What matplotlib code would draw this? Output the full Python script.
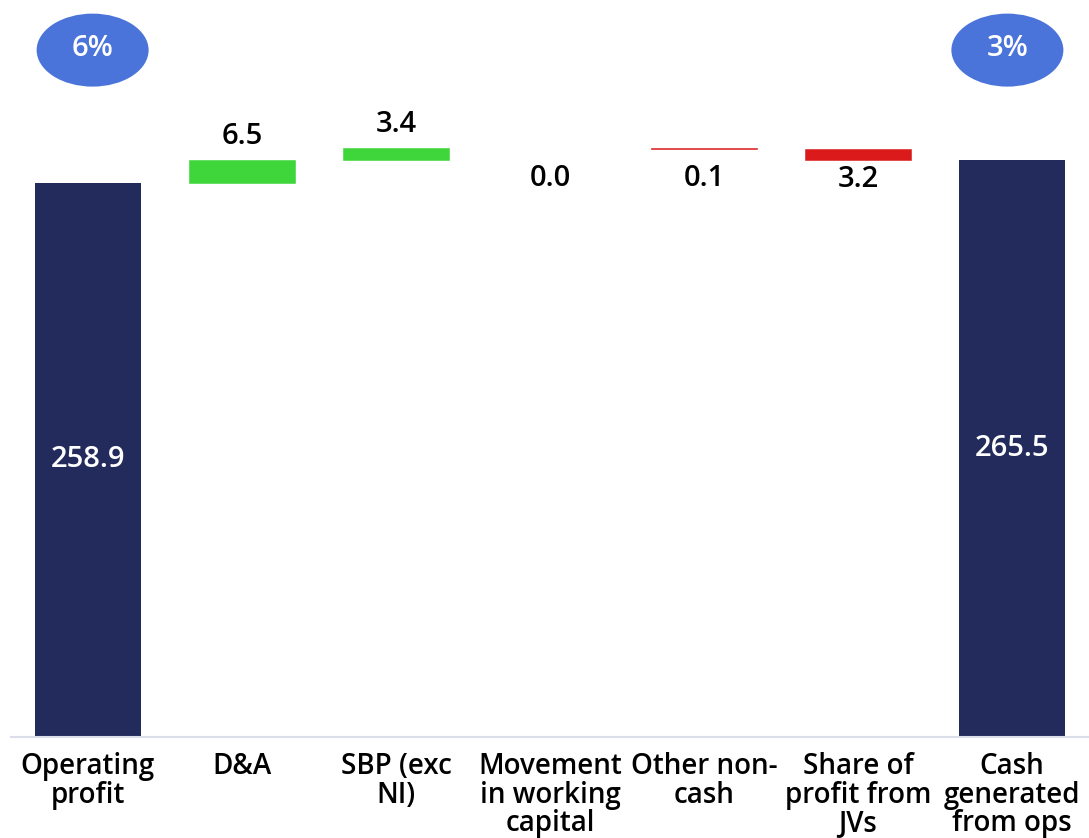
import matplotlib
matplotlib.use("Agg")
import matplotlib.pyplot as plt
from matplotlib.patches import Ellipse
import matplotlib.transforms as mtransforms
import numpy as np

plt.rcParams['font.family'] = ['Open Sans', 'DejaVu Sans']

# Cash flow bridge data (£m)
categories = ["Operating\nprofit", "D&A", "SBP (exc\nNI)", "Movement\nin working\ncapital",
              "Other non-\ncash", "Share of\nprofit from\nJVs", "Cash\ngenerated\nfrom ops"]
opening_total = 258.9
movements = [6.5, 3.4, 0.0, -0.1, -3.2]
closing_total = 265.5
badge_labels = ["6%", "3%"]

NAVY = "#222B5C"
GREEN = "#3ED63A"
RED = "#DB1B1B"
BADGE = "#4A74D9"
AXIS = "#D9DEE8"

fig = plt.figure(figsize=(10.89, 8.38), dpi=100)
ax = fig.add_axes([11 / 1089, 101 / 838, 1078 / 1089, 737 / 838])

x = np.arange(len(categories))
width = 0.69
ymin = 100.6
ax.set_xlim(-0.5, len(categories) - 0.5)
ax.set_ylim(ymin, ymin + 737 / 3.5)

FS = 20      # category labels
VS = 21      # value labels
WT = "semibold"

# Totals
for xi, val in ((x[0], opening_total), (x[-1], closing_total)):
    ax.bar(xi, val - ymin, bottom=ymin, width=width, color=NAVY, zorder=2)
    ax.text(xi, (val + ymin) / 2, f"{val:.1f}", ha="center", va="center",
            color="white", fontsize=VS, fontweight=WT)

# Movements: increases labelled above the bar, decreases below the starting level
level = opening_total
for xi, mv in zip(x[1:-1], movements):
    color = GREEN if mv > 0 else RED
    bottom = level if mv >= 0 else level + mv
    if mv != 0:
        ax.bar(xi, abs(mv), bottom=bottom, width=width, color=color,
               edgecolor=color, linewidth=0.4, zorder=2)
    if mv > 0:
        ax.annotate(f"{abs(mv):.1f}", (xi, level + mv), xytext=(0, 17), textcoords="offset points",
                    ha="center", va="center", fontsize=VS, fontweight=WT)
    else:
        ax.annotate(f"{abs(mv):.1f}", (xi, level), xytext=(0, -22), textcoords="offset points",
                    ha="center", va="center", fontsize=VS, fontweight=WT)
    level += mv

# Margin badges above the totals
trans = mtransforms.blended_transform_factory(ax.transData, ax.transAxes)
for xi, txt in zip((x[0] + 0.03, x[-1] - 0.03), badge_labels):
    ax.add_patch(Ellipse((xi, 0.932), 112 / 154, 73 / 737, transform=trans,
                         facecolor=BADGE, edgecolor="none", zorder=3, clip_on=False))
    ax.text(xi, 0.934, txt, transform=trans, ha="center", va="center",
            color="white", fontsize=VS, fontweight=WT, zorder=4)

for side in ("top", "right", "left"):
    ax.spines[side].set_visible(False)
ax.spines["bottom"].set_color(AXIS)
ax.spines["bottom"].set_linewidth(1.5)
ax.set_yticks([])
ax.set_xticks(x)
ax.set_xticklabels(categories, fontsize=FS, fontweight=WT, linespacing=0.97)
ax.tick_params(axis="x", length=0, pad=11)

fig.savefig("out.png", dpi=100)
